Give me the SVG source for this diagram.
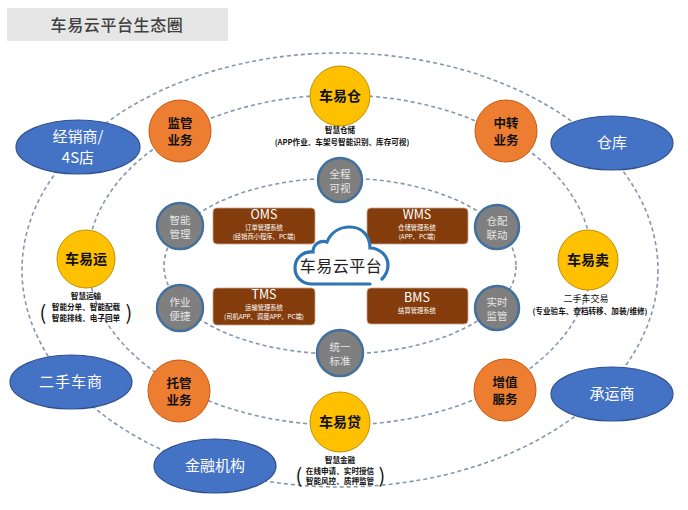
<svg xmlns="http://www.w3.org/2000/svg" width="688" height="510" viewBox="0 0 688 510">
<style>
text{font-family:"Noto Sans CJK SC","Noto Sans",sans-serif;text-anchor:middle}
.ring{fill:none;stroke:#8497b0;stroke-width:1.6;stroke-dasharray:4 3}
.blue ellipse{fill:#4472c4;stroke:#2f528f;stroke-width:1.2}
.blue text{fill:#fff;font-size:15px}
.org circle{fill:#ed7d31;stroke:#c55a11;stroke-width:1}
.org text{fill:#111;font-size:12.5px;font-weight:bold}
.yel circle{fill:#ffc000;stroke:#bf9000;stroke-width:1}
.yel text.t{fill:#111;font-size:14px;font-weight:bold}
.sub{fill:#111;font-size:7.6px;font-weight:bold}
.par{fill:#111;font-size:20px}
.gray circle{fill:#7f7f7f;stroke:#41719c;stroke-width:2.5}
.gray text{fill:#e6e6e6;font-size:10.5px}
.box rect{fill:#843c0c;stroke:#c9a58c;stroke-width:0.8}
.box text{fill:#fff}
.box .h{font-size:12.5px}
.box .s{font-size:6.3px}
</style>
<rect width="688" height="510" fill="#fff"/>
<g id="title">
<rect x="7" y="8" width="221" height="33" fill="#e7e6e6"/>
<text x="117" y="31" style="font-size:16px;fill:#404040;letter-spacing:0.6px;font-weight:500">车易云平台生态圈</text>
</g>
<g id="connectors">
<ellipse class="ring" cx="340" cy="270" rx="318" ry="217"/>
<ellipse class="ring" cx="340" cy="260" rx="252" ry="165"/>
<ellipse class="ring" cx="340" cy="266" rx="176" ry="88"/>
</g>
<g id="dealer" class="blue"><ellipse cx="78" cy="147" rx="62" ry="27"/><text x="78" y="142">经销商/</text><text x="78" y="163">4S店</text></g>
<g id="warehouse" class="blue"><ellipse cx="612" cy="143" rx="61" ry="27"/><text x="612" y="148">仓库</text></g>
<g id="usedcar" class="blue"><ellipse cx="71" cy="382" rx="61" ry="27"/><text x="71" y="387" style="letter-spacing:1px">二手车商</text></g>
<g id="finance" class="blue"><ellipse cx="215" cy="466" rx="61" ry="27"/><text x="215" y="471">金融机构</text></g>
<g id="carrier" class="blue"><ellipse cx="612" cy="394" rx="61" ry="27"/><text x="612" y="399">承运商</text></g>
<g id="supervise" class="org"><circle cx="180" cy="131" r="31"/><text x="180" y="127.5">监管</text><text x="180" y="145">业务</text></g>
<g id="transfer" class="org"><circle cx="506" cy="131" r="31"/><text x="506" y="127.5">中转</text><text x="506" y="145">业务</text></g>
<g id="custody" class="org"><circle cx="179" cy="391" r="31"/><text x="179" y="387.5">托管</text><text x="179" y="405">业务</text></g>
<g id="value" class="org"><circle cx="505" cy="390" r="31"/><text x="505" y="386.5">增值</text><text x="505" y="404">服务</text></g>
<g id="cheyicang" class="yel"><circle cx="340" cy="96" r="30"/><text class="t" x="340" y="101">车易仓</text>
<text class="sub" x="340" y="133">智慧仓储</text><text class="sub" x="342" y="145">(APP作业、车架号智能识别、库存可视)</text></g>
<g id="cheyiyun" class="yel"><circle cx="86" cy="259" r="29"/><text class="t" x="86" y="264">车易运</text>
<text class="sub" x="86" y="299">智慧运输</text><text class="sub" x="86" y="310">智能分单、智能配载</text><text class="sub" x="86" y="320.5">智能排线、电子回单</text>
<text class="par" x="43" y="320">(</text><text class="par" x="129" y="320">)</text></g>
<g id="cheyimai" class="yel"><circle cx="588" cy="260" r="30"/><text class="t" x="588" y="265">车易卖</text>
<text class="sub" x="586" y="302" style="font-weight:normal;font-size:9px">二手车交易</text><text class="sub" x="590" y="314">(专业验车、查档转移、加装/维修)</text></g>
<g id="cheyidai" class="yel"><circle cx="340" cy="422" r="30"/><text class="t" x="340" y="427">车易贷</text>
<text class="sub" x="340" y="463">智慧金融</text><text class="sub" x="340" y="473.5">在线申请、实时授信</text><text class="sub" x="340" y="484">智能风控、质押监管</text>
<text class="par" x="299" y="483">(</text><text class="par" x="382" y="483">)</text></g>
<g id="visible" class="gray"><circle cx="340" cy="180" r="22"/><text x="340" y="177.5">全程</text><text x="340" y="191.5">可视</text></g>
<g id="smart" class="gray"><circle cx="180" cy="226" r="23"/><text x="180" y="223.5">智能</text><text x="180" y="237.5">管理</text></g>
<g id="linkage" class="gray"><circle cx="497" cy="227" r="22"/><text x="497" y="224.5">仓配</text><text x="497" y="238.5">联动</text></g>
<g id="easy" class="gray"><circle cx="180" cy="308" r="23"/><text x="180" y="305.5">作业</text><text x="180" y="319.5">便捷</text></g>
<g id="monitor" class="gray"><circle cx="497" cy="308" r="22"/><text x="497" y="305.5">实时</text><text x="497" y="319.5">监管</text></g>
<g id="standard" class="gray"><circle cx="340" cy="353" r="23"/><text x="340" y="350.5">统一</text><text x="340" y="364.5">标准</text></g>
<g id="oms" class="box"><rect x="213" y="208" width="102" height="36" rx="4"/><text class="h" x="264" y="219">OMS</text><text class="s" x="264" y="230">订单管理系统</text><text class="s" x="264" y="238.5">(经销商小程序、PC端)</text></g>
<g id="wms" class="box"><rect x="367" y="208" width="101" height="36" rx="4"/><text class="h" x="417" y="219">WMS</text><text class="s" x="417" y="230">仓储管理系统</text><text class="s" x="417" y="238.5">(APP、PC端)</text></g>
<g id="tms" class="box"><rect x="213" y="288" width="102" height="37" rx="4"/><text class="h" x="264" y="299">TMS</text><text class="s" x="264" y="310">运输管理系统</text><text class="s" x="264" y="318.5">(司机APP、调度APP、PC端)</text></g>
<g id="bms" class="box"><rect x="367" y="288" width="101" height="36" rx="4"/><text class="h" x="417" y="302">BMS</text><text class="s" x="417" y="313">结算管理系统</text></g>
<g id="cloud">
<path d="M370 284 H312 C302 284 295 277 295 268 C295 258 303 251 313 252 C313 244 320 240 327 242 C331 232 340 227 350 227 C362 227 370 236 370 248 C380 248 388 256 388 265 C388 271 386 275 382 279" fill="#fff" stroke="#2e75b6" stroke-width="3.2" stroke-linecap="round"/>
<text x="341" y="272" style="font-size:16px;fill:#222;letter-spacing:0.5px">车易云平台</text>
</g>
</svg>
